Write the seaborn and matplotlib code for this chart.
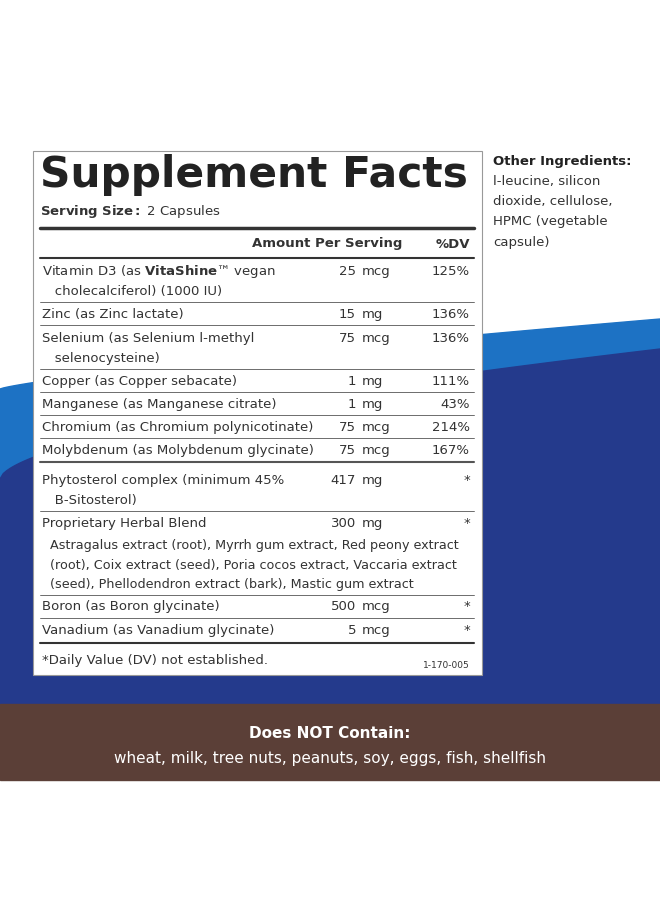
import numpy as np
import matplotlib.pyplot as plt
import seaborn as sns
from matplotlib.patches import Rectangle

# label content
names = [["Vitamin D3 (as $\\bf{VitaShine}$™ vegan", "   cholecalciferol) (1000 IU)"],
         ["Zinc (as Zinc lactate)"],
         ["Selenium (as Selenium l-methyl", "   selenocysteine)"],
         ["Copper (as Copper sebacate)"],
         ["Manganese (as Manganese citrate)"],
         ["Chromium (as Chromium polynicotinate)"],
         ["Molybdenum (as Molybdenum glycinate)"],
         ["Phytosterol complex (minimum 45%", "   B-Sitosterol)"],
         ["Proprietary Herbal Blend"],
         ["Boron (as Boron glycinate)"],
         ["Vanadium (as Vanadium glycinate)"]]
amounts = ["25", "15", "75", "1", "1", "75", "75", "417", "300", "500", "5"]
units = ["mcg", "mg", "mcg", "mg", "mg", "mcg", "mcg", "mg", "mg", "mcg", "mcg"]
dv = ["125%", "136%", "136%", "111%", "43%", "214%", "167%", "*", "*", "*", "*"]
row_y = [272, 315, 339, 382, 405, 428, 451, 481, 524, 607, 631]
line_y = [303, 326, 370, 393, 416, 439, 463, 512, 596, 619]
blend = ["Astragalus extract (root), Myrrh gum extract, Red peony extract",
         "(root), Coix extract (seed), Poria cocos extract, Vaccaria extract",
         "(seed), Phellodendron extract (bark), Mastic gum extract"]
other = ["l-leucine, silicon", "dioxide, cellulose,", "HPMC (vegetable", "capsule)"]

sns.set_style("white")
fig = plt.figure(figsize=(6.6, 9.04), dpi=100)
ax = fig.add_axes([0, 0, 1, 1])
ax.set_xlim(0, 660)
ax.set_ylim(904, 0)
ax.axis("off")

# background swooshes
x = np.linspace(0, 660, 200)
top_light = 390 - 70 * (x / 660) ** 0.8
top_navy = 480 - 130 * (x / 660) ** 0.6
ax.fill_between(x, top_light, 705, color="#1d72c4", zorder=0)
ax.fill_between(x, top_navy, 705, color="#243a8c", zorder=0)
ax.add_patch(Rectangle((0, 705), 660, 76, color="#5b3f37", zorder=0))
ax.text(330, 734, "Does NOT Contain:", color="white", fontsize=11, fontweight="bold",
        ha="center", va="center")
ax.text(330, 759, "wheat, milk, tree nuts, peanuts, soy, eggs, fish, shellfish",
        color="white", fontsize=11, ha="center", va="center")

# facts box
ax.add_patch(Rectangle((33, 152), 449, 524, facecolor="white", edgecolor="#999999",
                       lw=0.8, zorder=1))
ax.text(40, 175, "Supplement Facts", fontsize=30.5, fontweight="heavy",
        va="center", ha="left", color="#222222")
ax.text(40, 211, "$\\bf{Serving\\ Size:}$ 2 Capsules", fontsize=9.5, va="center", color="#333333")
ax.plot([40, 474], [229, 229], color="#333333", lw=2.5)
ax.text(402, 244, "Amount Per Serving", fontsize=9.5, fontweight="bold", ha="right",
        va="center", color="#333333")
ax.text(470, 244, "%DV", fontsize=9.5, fontweight="bold", ha="right", va="center",
        color="#333333")
ax.plot([40, 474], [259, 259], color="#333333", lw=1.5)

for nm, a, u, d, y in zip(names, amounts, units, dv, row_y):
    for i, s in enumerate(nm):
        ax.text(42, y + i * 20, s, fontsize=9.5, va="center", color="#333333")
    ax.text(356, y, a, fontsize=9.5, ha="right", va="center", color="#333333")
    ax.text(362, y, u, fontsize=9.5, ha="left", va="center", color="#333333")
    ax.text(470, y, d, fontsize=9.5, ha="right", va="center", color="#333333")
for i, s in enumerate(blend):
    ax.text(50, 546 + i * 19.5, s, fontsize=9.2, va="center", color="#333333")
for y in line_y:
    ax.plot([40, 474], [y, y], color="#555555", lw=1.5 if y == 463 else 0.6)
ax.plot([40, 474], [644, 644], color="#333333", lw=1.5)
ax.text(42, 661, "*Daily Value (DV) not established.", fontsize=9.5, va="center",
        color="#333333")
ax.text(470, 666, "1-170-005", fontsize=6.5, ha="right", va="center", color="#333333")

# other ingredients
ax.text(493, 161, "Other Ingredients:", fontsize=9.5, fontweight="bold", va="center",
        color="#222222")
for i, s in enumerate(other):
    ax.text(493, 181 + i * 20.5, s, fontsize=9.5, va="center", color="#333333")

fig.savefig("out.png", dpi=100)
